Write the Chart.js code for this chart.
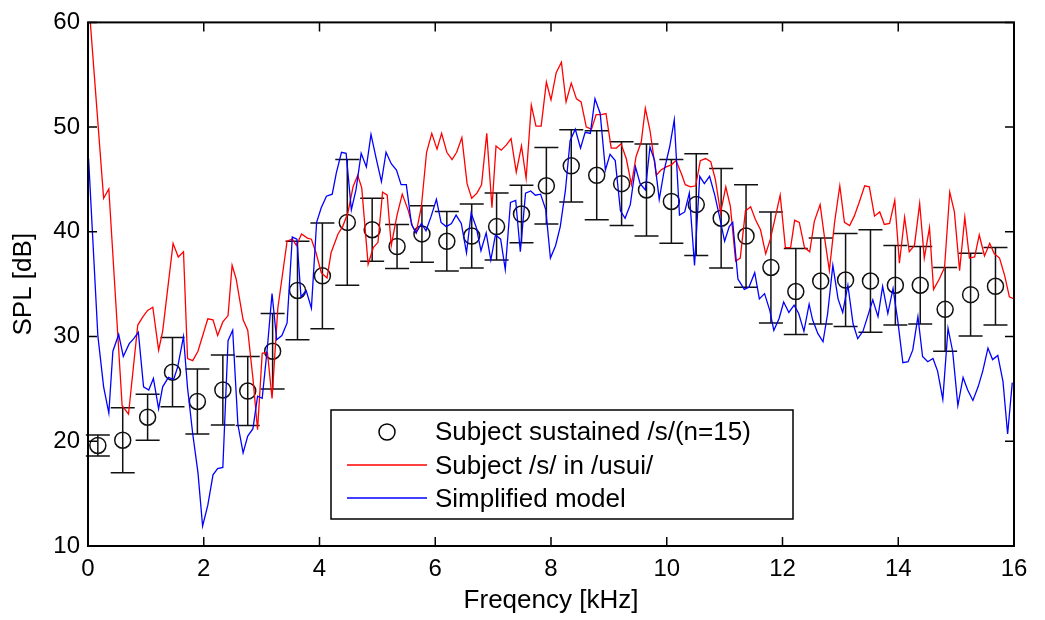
<!DOCTYPE html>
<html>
<head>
<meta charset="utf-8">
<script src="https://cdn.jsdelivr.net/npm/chart.js@4.4.1/dist/chart.umd.min.js"></script>
<style>
  html, body { margin: 0; padding: 0; background: #fff; }
  #wrap { width: 1045px; height: 620px; }
</style>
</head>
<body>
<div id="wrap"><canvas id="c" width="1045" height="620"></canvas></div>
<script>
// measured points (mean +/- std), kHz / dB
const meanFreq = [0.17, 0.60, 1.03, 1.46, 1.89, 2.33, 2.76, 3.19, 3.62, 4.05, 4.48, 4.91, 5.34,
  5.77, 6.20, 6.63, 7.06, 7.49, 7.92, 8.35, 8.79, 9.22, 9.65, 10.08, 10.51, 10.94, 11.37,
  11.80, 12.23, 12.66, 13.09, 13.52, 13.95, 14.38, 14.81, 15.25, 15.68];
const meanSpl = [19.6, 20.1, 22.3, 26.6, 23.8, 24.9, 24.8, 28.6, 34.4, 35.8, 40.9, 40.2, 38.6,
  39.8, 39.1, 39.6, 40.5, 41.7, 44.4, 46.3, 45.4, 44.6, 44.0, 42.9, 42.6, 41.3, 39.6,
  36.6, 34.3, 35.3, 35.4, 35.3, 34.9, 34.9, 32.6, 34.0, 34.8];
const stdSpl = [1.0, 3.1, 2.2, 3.3, 3.1, 3.35, 3.3, 3.6, 4.7, 5.05, 6.0, 3.0, 2.1,
  2.7, 2.85, 3.05, 3.2, 2.75, 3.65, 3.45, 4.25, 4.0, 4.4, 4.0, 4.85, 4.75, 4.9,
  5.3, 4.1, 4.1, 4.45, 4.9, 3.8, 3.7, 4.0, 3.95, 3.7];

// [kHz, dB]
const usuiLine = [[0.04,60],[0.27,43.2],[0.36,44.1],[0.59,23.4],[0.70,22.6],[0.86,31.1],[0.95,31.9],[1.03,32.5],[1.12,32.8],[1.22,28.7],[1.29,30.5],[1.47,38.9],[1.56,37.6],[1.65,38.1],[1.72,27.9],[1.81,27.7],[1.90,28.6],[2.07,31.7],[2.16,31.6],[2.24,30.1],[2.33,31.4],[2.42,32.0],[2.49,36.8],[2.56,35.5],[2.68,31.6],[2.76,30.6],[2.85,26.0],[2.93,21.1],[3.01,28.4],[3.10,28.5],[3.18,24.1],[3.28,32.7],[3.44,39.1],[3.53,39.3],[3.60,38.7],[3.69,39.8],[3.79,39.4],[3.86,39.3],[3.94,38.0],[4.03,36.1],[4.13,35.6],[4.20,38.0],[4.32,39.8],[4.40,40.5],[4.49,41.8],[4.58,44.3],[4.66,45.4],[4.73,44.2],[4.84,36.9],[4.93,38.5],[5.01,39.0],[5.09,43.8],[5.17,43.5],[5.24,38.7],[5.34,41.6],[5.43,43.6],[5.53,42.1],[5.61,40.5],[5.67,39.9],[5.76,42.4],[5.85,47.6],[5.94,49.4],[6.03,47.9],[6.11,49.4],[6.20,47.6],[6.29,46.9],[6.37,47.6],[6.46,49.0],[6.55,44.6],[6.63,43.2],[6.72,43.7],[6.80,44.5],[6.89,49.4],[6.98,42.3],[7.05,48.2],[7.14,47.8],[7.23,48.3],[7.31,48.9],[7.40,45.7],[7.49,48.2],[7.57,45.1],[7.66,52.1],[7.74,50.1],[7.83,50.1],[7.92,54.3],[8.00,52.6],[8.09,55.2],[8.18,56.2],[8.26,52.4],[8.35,54.2],[8.44,52.7],[8.52,52.4],[8.61,50.0],[8.70,49.8],[8.78,51.2],[8.87,51.2],[8.95,51.3],[9.04,48.0],[9.13,48.0],[9.21,48.4],[9.30,47.0],[9.39,44.5],[9.47,47.2],[9.56,48.6],[9.63,51.8],[9.71,49.7],[9.82,45.4],[9.90,45.9],[9.99,46.2],[10.08,46.4],[10.16,46.8],[10.25,45.6],[10.32,44.5],[10.41,44.3],[10.50,44.4],[10.58,46.8],[10.67,47.0],[10.76,46.7],[10.84,45.0],[10.93,41.8],[11.02,44.3],[11.10,42.4],[11.19,37.2],[11.27,37.5],[11.36,42.0],[11.45,42.4],[11.53,41.2],[11.62,40.2],[11.71,37.9],[11.79,39.3],[11.88,41.5],[11.96,43.5],[12.05,38.5],[12.14,38.5],[12.21,41.1],[12.29,40.9],[12.38,38.5],[12.47,38.1],[12.55,41.0],[12.65,42.6],[12.73,39.3],[12.81,36.3],[12.90,40.9],[12.99,44.4],[13.07,40.9],[13.16,40.6],[13.24,41.5],[13.33,42.9],[13.42,44.4],[13.50,44.3],[13.59,41.5],[13.68,41.9],[13.76,40.7],[13.85,40.8],[13.94,43.0],[14.02,37.0],[14.11,41.4],[14.19,38.1],[14.28,38.7],[14.37,42.7],[14.45,37.5],[14.54,40.4],[14.61,34.5],[14.71,35.5],[14.80,36.6],[14.89,43.8],[14.97,41.9],[15.06,36.3],[15.15,41.4],[15.23,37.5],[15.32,37.6],[15.40,39.7],[15.49,37.7],[15.58,38.9],[15.66,37.9],[15.75,37.5],[15.84,35.8],[15.92,33.8],[16.00,33.6]];

const modelLine = [[0.01,47.0],[0.17,30.1],[0.27,25.2],[0.36,22.7],[0.43,28.6],[0.53,30.2],[0.61,28.1],[0.71,29.3],[0.79,29.8],[0.87,30.4],[0.96,25.2],[1.05,24.9],[1.13,26.0],[1.22,23.1],[1.29,25.2],[1.39,26.1],[1.48,25.9],[1.55,27.1],[1.65,30.0],[1.72,25.1],[1.81,20.7],[1.90,17.0],[1.98,11.9],[2.07,13.9],[2.16,16.8],[2.24,17.4],[2.33,17.5],[2.42,29.6],[2.50,30.6],[2.59,21.6],[2.68,18.9],[2.76,20.5],[2.85,21.2],[2.93,24.3],[3.01,24.1],[3.10,29.0],[3.18,34.1],[3.26,29.7],[3.35,30.1],[3.44,31.3],[3.53,39.5],[3.61,39.3],[3.68,33.8],[3.77,34.4],[3.86,32.7],[3.95,40.9],[4.03,42.3],[4.12,43.4],[4.22,43.6],[4.29,45.6],[4.38,47.6],[4.46,47.5],[4.55,42.1],[4.63,44.0],[4.72,47.5],[4.81,46.2],[4.89,49.3],[4.98,47.0],[5.07,44.8],[5.15,47.6],[5.24,46.5],[5.33,45.9],[5.41,44.5],[5.50,44.5],[5.59,40.7],[5.67,39.9],[5.76,40.8],[5.84,40.1],[5.93,41.5],[6.02,43.1],[6.10,40.9],[6.19,40.5],[6.28,40.8],[6.36,41.6],[6.45,40.8],[6.54,38.0],[6.62,41.8],[6.71,40.4],[6.79,38.2],[6.88,39.9],[6.96,37.3],[7.04,39.7],[7.13,39.3],[7.21,36.4],[7.30,42.8],[7.39,43.0],[7.47,38.1],[7.56,43.7],[7.65,43.9],[7.73,43.5],[7.82,43.6],[7.91,42.1],[7.99,37.5],[8.08,38.7],[8.16,40.5],[8.25,44.0],[8.33,48.7],[8.42,49.8],[8.51,48.0],[8.59,49.5],[8.68,49.4],[8.76,52.7],[8.85,51.3],[8.94,45.9],[9.02,47.4],[9.11,46.8],[9.20,42.0],[9.28,41.3],[9.37,42.6],[9.46,46.2],[9.54,44.6],[9.63,44.0],[9.71,48.1],[9.79,46.8],[9.87,43.1],[9.96,46.0],[10.05,48.1],[10.13,50.7],[10.22,41.6],[10.31,41.9],[10.39,43.7],[10.48,36.8],[10.57,45.3],[10.65,44.6],[10.74,45.3],[10.83,43.5],[10.91,41.5],[11.00,39.1],[11.08,40.5],[11.14,40.9],[11.23,35.5],[11.34,34.5],[11.42,34.7],[11.52,36.1],[11.60,33.6],[11.69,34.1],[11.78,32.5],[11.85,30.6],[11.94,31.7],[12.02,33.3],[12.11,32.3],[12.20,33.0],[12.28,32.2],[12.37,30.5],[12.46,33.1],[12.52,31.6],[12.61,30.3],[12.70,29.5],[12.78,32.2],[12.87,36.8],[12.96,33.6],[13.04,32.3],[13.13,34.9],[13.22,31.2],[13.30,29.8],[13.39,30.5],[13.47,31.9],[13.56,33.5],[13.65,31.9],[13.73,34.8],[13.82,32.2],[13.91,34.6],[13.99,31.6],[14.08,27.5],[14.17,27.6],[14.25,28.7],[14.34,31.9],[14.42,28.1],[14.51,27.6],[14.60,27.9],[14.68,26.7],[14.77,24.0],[14.86,30.8],[14.94,28.6],[15.03,23.4],[15.12,26.1],[15.20,24.9],[15.29,23.9],[15.38,25.2],[15.46,26.7],[15.55,28.9],[15.63,27.8],[15.72,28.2],[15.81,25.7],[15.89,20.7],[15.97,25.6]];

const xTicks = [0, 2, 4, 6, 8, 10, 12, 14, 16];
const yTicks = [10, 20, 30, 40, 50, 60];
const legendLabels = ["Subject sustained /s/(n=15)", "Subject /s/ in /usui/", "Simplified model"];

const FONT = '"Liberation Sans", Arial, Helvetica, sans-serif';
const toXY = pts => pts.map(p => ({ x: p[0], y: p[1] }));

// error bars under the lines, like the matlab draw order
const errorBars = {
  id: "errorBars",
  beforeDatasetsDraw(chart) {
    const { ctx, scales: { x, y } } = chart;
    ctx.save();
    ctx.strokeStyle = "#111";
    ctx.lineWidth = 1.5;
    meanFreq.forEach((f, i) => {
      const px = x.getPixelForValue(f);
      const top = y.getPixelForValue(meanSpl[i] + stdSpl[i]);
      const bot = y.getPixelForValue(meanSpl[i] - stdSpl[i]);
      ctx.beginPath();
      ctx.moveTo(px, top); ctx.lineTo(px, bot);
      ctx.moveTo(px - 12, top); ctx.lineTo(px + 12, top);
      ctx.moveTo(px - 12, bot); ctx.lineTo(px + 12, bot);
      ctx.stroke();
    });
    ctx.restore();
  }
};

// box + inward ticks on all sides
const frame = {
  id: "frame",
  afterDraw(chart) {
    const { ctx, chartArea: a, scales: { x, y } } = chart;
    ctx.save();
    ctx.strokeStyle = "#000";
    ctx.lineWidth = 2;
    ctx.strokeRect(a.left, a.top, a.right - a.left, a.bottom - a.top);
    ctx.lineWidth = 1.5;
    ctx.beginPath();
    xTicks.forEach(v => {
      const px = x.getPixelForValue(v);
      ctx.moveTo(px, a.bottom); ctx.lineTo(px, a.bottom - 9);
      ctx.moveTo(px, a.top); ctx.lineTo(px, a.top + 9);
    });
    yTicks.forEach(v => {
      const py = y.getPixelForValue(v);
      ctx.moveTo(a.left, py); ctx.lineTo(a.left + 9, py);
      ctx.moveTo(a.right, py); ctx.lineTo(a.right - 9, py);
    });
    ctx.stroke();
    ctx.restore();
  }
};

const boxLegend = {
  id: "boxLegend",
  afterDraw(chart) {
    const { ctx } = chart;
    const L = 331, T = 410, W = 462, H = 109;
    ctx.save();
    ctx.fillStyle = "#fff";
    ctx.fillRect(L, T, W, H);
    ctx.strokeStyle = "#000";
    ctx.lineWidth = 1.5;
    ctx.strokeRect(L, T, W, H);
    ctx.beginPath();
    ctx.arc(L + 56, T + 22, 8, 0, Math.PI * 2);
    ctx.stroke();
    ctx.lineWidth = 1.3;
    ctx.strokeStyle = "#ff0000";
    ctx.beginPath(); ctx.moveTo(L + 16, T + 55); ctx.lineTo(L + 96, T + 55); ctx.stroke();
    ctx.strokeStyle = "#0000ff";
    ctx.beginPath(); ctx.moveTo(L + 16, T + 88); ctx.lineTo(L + 96, T + 88); ctx.stroke();
    ctx.fillStyle = "#000";
    ctx.font = "26px " + FONT;
    ctx.textBaseline = "middle";
    const rows = [T + 23, T + 57, T + 90];
    legendLabels.forEach((t, i) => ctx.fillText(t, L + 104, rows[i]));
    ctx.restore();
  }
};

new Chart(document.getElementById("c"), {
  type: "line",
  data: {
    datasets: [{
      label: legendLabels[2],
      data: toXY(modelLine),
      borderColor: "#0000ff",
      borderWidth: 1.3,
      pointRadius: 0,
      tension: 0,
    }, {
      label: legendLabels[1],
      data: toXY(usuiLine),
      borderColor: "#ff0000",
      borderWidth: 1.3,
      pointRadius: 0,
      tension: 0,
    }, {
      label: legendLabels[0],
      data: meanFreq.map((f, i) => ({ x: f, y: meanSpl[i] })),
      showLine: false,
      pointRadius: 8,
      pointStyle: "circle",
      pointBorderColor: "#111",
      pointBackgroundColor: "rgba(0,0,0,0)",
      pointBorderWidth: 1.5,
    }],
  },
  options: {
    responsive: false,
    animation: false,
    devicePixelRatio: 1,
    layout: { padding: { left: 0, right: 31, top: 18, bottom: 0 } },
    plugins: {
      legend: { display: false },
      tooltip: { enabled: false },
    },
    scales: {
      x: {
        type: "linear",
        min: 0, max: 16,
        afterFit: s => { s.height = 74; },
        afterBuildTicks: s => { s.ticks = xTicks.map(v => ({ value: v })); },
        grid: { display: false, drawTicks: false },
        border: { display: false },
        ticks: { color: "#000", font: { family: FONT, size: 24 }, padding: 9, maxRotation: 0 },
        title: { display: true, text: "Freqency [kHz]", color: "#000",
                 font: { family: FONT, size: 26 }, padding: { top: 0, bottom: 4 } },
      },
      y: {
        min: 10, max: 60,
        afterFit: s => { s.width = 88; },
        afterBuildTicks: s => { s.ticks = yTicks.map(v => ({ value: v })); },
        grid: { display: false, drawTicks: false },
        border: { display: false },
        ticks: { color: "#000", font: { family: FONT, size: 24 }, padding: 8 },
        title: { display: true, text: "SPL [dB]", color: "#000",
                 font: { family: FONT, size: 26 }, padding: { top: 8, bottom: 0 } },
      },
    },
  },
  plugins: [errorBars, frame, boxLegend],
});
</script>
</body>
</html>
